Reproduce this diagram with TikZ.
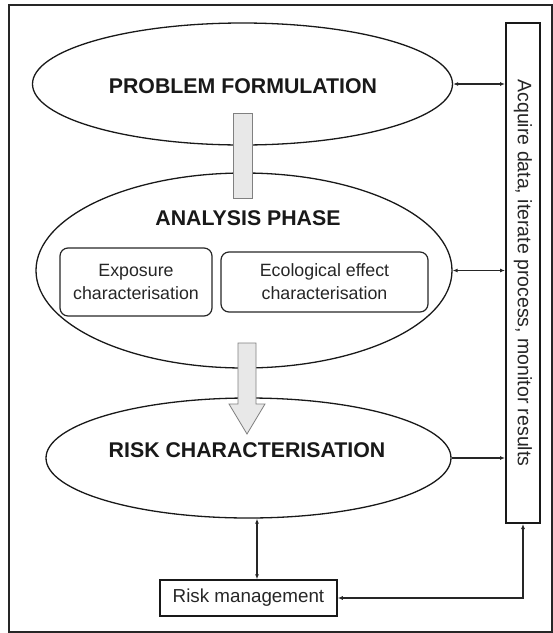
\documentclass[tikz,border=0pt]{standalone}
\usepackage{fontspec}
\setmainfont{Liberation Sans}
\usetikzlibrary{shapes.geometric,arrows.meta}
\begin{document}
\begin{tikzpicture}[x=1pt,y=-1pt,
  oval/.style={draw=black!90, line width=1.3pt, ellipse, inner sep=0pt},
  title/.style={font=\fontsize{21.3}{24}\selectfont\bfseries, text=black!90, inner sep=0pt},
  sub/.style={draw=black!85, line width=1.2pt, rounded corners=8pt, align=center,
              font=\fontsize{17.8}{23}\selectfont, text=black!85, inner sep=0pt},
  plainbox/.style={draw=black!90, inner sep=0pt},
  link/.style={line width=1.1pt, black!85},
  tip/.style={-{Latex[length=5pt,width=4pt]}},
  tips/.style={{Latex[length=5pt,width=4pt]}-{Latex[length=5pt,width=4pt]}},
  flowbar/.style={draw=black!50, fill=black!9, line width=0.8pt}
]
\useasboundingbox (0,0) rectangle (553,633);
\draw[line width=2pt, black!85] (9,5) rectangle (551.5,631.5);

% ellipses
\node[oval, minimum width=420pt, minimum height=122pt] (e1) at (242.5,84) {};
\node[oval, minimum width=416pt, minimum height=195pt] (e2) at (244,270.5) {};
\node[oval, minimum width=405pt, minimum height=120pt] (e3) at (248.5,458) {};

\node[title] (t1) at (243,86) {PROBLEM FORMULATION};
\node[title] (t2) at (248,218) {ANALYSIS PHASE};
\node[title] (t3) at (247,450) {RISK CHARACTERISATION};

% inner boxes
\node[sub, minimum width=152pt, minimum height=68pt] (expo) at (136,282)
  {Exposure\\characterisation};
\node[sub, minimum width=207pt, minimum height=60pt] (eco) at (324.5,282)
  {Ecological effect\\characterisation};

% flow bar between e1 and e2
\node[flowbar, minimum width=19pt, minimum height=85pt, inner sep=0pt] (bar) at (242.5,155.5) {};

% block arrow from e2 to e3
\draw[flowbar] (238,343) -- (256,343) -- (256,404) -- (265,404) -- (247,434)
  -- (229,404) -- (238,404) -- cycle;

% side box
\node[plainbox, line width=2pt, minimum width=34pt, minimum height=500pt] (side) at (523,273) {};
\node[rotate=-90, font=\fontsize{19.5}{21}\selectfont, text=black!85] (sidetxt) at (side.center)
  {Acquire data, iterate process, monitor results};

% risk management
\node[plainbox, line width=1.5pt, minimum width=177pt, minimum height=36pt,
      font=\fontsize{18.8}{20}\selectfont, text=black!85] (rm) at (248.5,598) {Risk management};

% connectors
\draw[link,tips] (e1.east) -- (e1.east -| side.west);
\draw[link,tips] (e2.east) -- (e2.east -| side.west);
\draw[link,tip] (e3.east) -- (e3.east -| side.west);
\coordinate (rmx) at (257,0);
\draw[link,tips] (e3.south -| rmx) -- (rm.north -| rmx);
\draw[link,tips] (rm.east) -- (rm.east -| side.south) -- (side.south);
\end{tikzpicture}
\end{document}
